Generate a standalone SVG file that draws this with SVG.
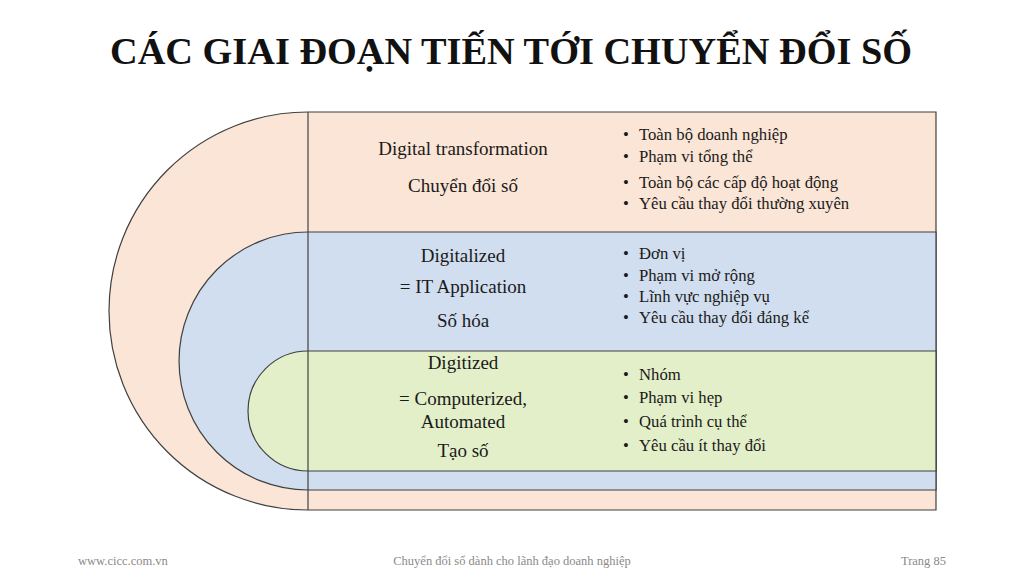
<svg xmlns="http://www.w3.org/2000/svg" width="1024" height="576" viewBox="0 0 1024 576">
<style>
.sh{stroke:#404040;stroke-width:1.2}
.peach{fill:#FBE5D6}
.blue{fill:#D1DEEF}
.green{fill:#E3EFC9}
.lbl{font-family:"Liberation Serif","Times New Roman",serif;font-size:19px;fill:#1a1a1a;text-anchor:middle}
.bul{font-family:"Liberation Serif","Times New Roman",serif;font-size:16.7px;fill:#1a1a1a}
.ft{font-family:"Liberation Serif","Times New Roman",serif;font-size:12.5px;fill:#8a8a8a}
</style>
<rect width="1024" height="576" fill="#ffffff"/>
<text x="511" y="64" font-family="'Liberation Serif','Times New Roman',serif" font-size="38" font-weight="bold" fill="#111" text-anchor="middle" textLength="802" lengthAdjust="spacingAndGlyphs">CÁC GIAI ĐOẠN TIẾN TỚI CHUYỂN ĐỔI SỐ</text>

<g id="digital-transformation">
<path class="sh peach" d="M308 112 H936 V510 H308 A199 199 0 0 1 308 112 Z"/>
<line class="sh" x1="308" y1="112" x2="308" y2="510"/>
<text class="lbl" x="463" y="155">Digital transformation</text>
<text class="lbl" x="463" y="192">Chuyển đổi số</text>
<g class="bul">
<text x="623" y="140">•</text><text x="639" y="140">Toàn bộ doanh nghiệp</text>
<text x="623" y="162">•</text><text x="639" y="162">Phạm vi tổng thể</text>
<text x="623" y="188">•</text><text x="639" y="188">Toàn bộ các cấp độ hoạt động</text>
<text x="623" y="209">•</text><text x="639" y="209">Yêu cầu thay đổi thường xuyên</text>
</g>
</g>

<g id="digitalized">
<path class="sh blue" d="M308 232 H936 V490 H308 A129 129 0 0 1 308 232 Z"/>
<line class="sh" x1="308" y1="232" x2="308" y2="490"/>
<text class="lbl" x="463" y="262">Digitalized</text>
<text class="lbl" x="463" y="293">= IT Application</text>
<text class="lbl" x="463" y="327">Số hóa</text>
<g class="bul">
<text x="623" y="259">•</text><text x="639" y="259">Đơn vị</text>
<text x="623" y="281">•</text><text x="639" y="281">Phạm vi mở rộng</text>
<text x="623" y="302">•</text><text x="639" y="302">Lĩnh vực nghiệp vụ</text>
<text x="623" y="323">•</text><text x="639" y="323">Yêu cầu thay đổi đáng kể</text>
</g>
</g>

<g id="digitized">
<path class="sh green" d="M308 351 H936 V471 H308 A60 60 0 0 1 308 351 Z"/>
<line class="sh" x1="308" y1="351" x2="308" y2="471"/>
<text class="lbl" x="463" y="369">Digitized</text>
<text class="lbl" x="463" y="405">= Computerized,</text>
<text class="lbl" x="463" y="428">Automated</text>
<text class="lbl" x="463" y="457">Tạo số</text>
<g class="bul">
<text x="623" y="380">•</text><text x="639" y="380">Nhóm</text>
<text x="623" y="403">•</text><text x="639" y="403">Phạm vi hẹp</text>
<text x="623" y="427">•</text><text x="639" y="427">Quá trình cụ thể</text>
<text x="623" y="451">•</text><text x="639" y="451">Yêu cầu ít thay đổi</text>
</g>
</g>

<g id="connectors"></g>

<g id="footer">
<text class="ft" x="78" y="565">www.cicc.com.vn</text>
<text class="ft" x="512" y="565" text-anchor="middle">Chuyển  đổi số dành cho lãnh đạo doanh nghiệp</text>
<text class="ft" x="946" y="565" text-anchor="end">Trang  85</text>
</g>
</svg>
